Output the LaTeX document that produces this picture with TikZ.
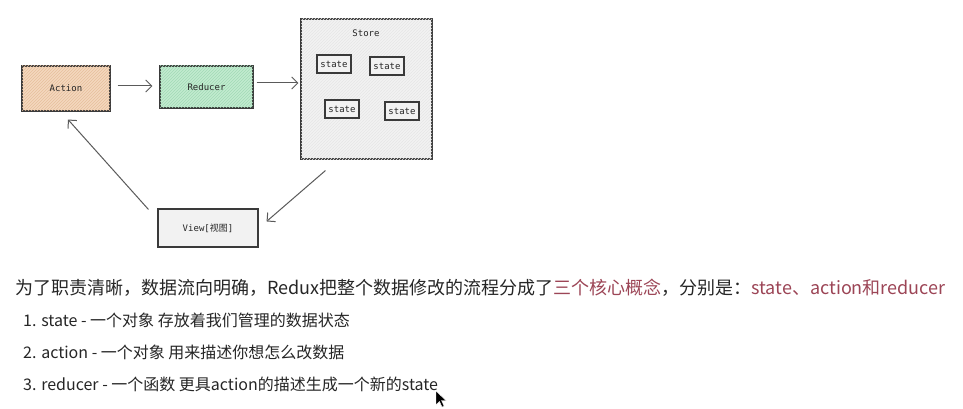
\documentclass[tikz,border=0pt]{standalone}
\usepackage{fontspec}
\setmainfont{Noto Sans CJK SC}
\newfontfamily\cjk{Noto Sans CJK SC}
\setmonofont{DejaVu Sans Mono}
\usetikzlibrary{arrows.meta,patterns}
\definecolor{actfill}{HTML}{F4D8BE}
\definecolor{actline}{HTML}{E6BF9C}
\definecolor{redfill}{HTML}{C2EBD0}
\definecolor{redline}{HTML}{A2DAB6}
\definecolor{stfill}{HTML}{F2F2F2}
\definecolor{stline}{HTML}{E6E6E6}
\definecolor{boxline}{HTML}{3A3A3A}
\definecolor{arrowc}{HTML}{5A5A5A}
\definecolor{txt}{HTML}{262626}
\definecolor{hl}{HTML}{9C4556}
\tikzset{
  sketchbox/.style={draw=boxline, line width=1.1pt, inner sep=0pt, font=\ttfamily\fontsize{9}{10}\selectfont, text=txt},
  statebox/.style={sketchbox, fill=stfill, minimum width=34pt, minimum height=18pt, line width=1.2pt},
  flow/.style={draw=arrowc, line width=1pt, -{Straight Barb[length=6pt,width=12pt,line width=1pt]}},
  para/.style={anchor=west, inner sep=0pt, text=txt},
  listline/.style={para, font=\fontsize{16}{18}\selectfont},
}
\begin{document}
\begin{tikzpicture}[x=1pt,y=-1pt]
\useasboundingbox (0,0) rectangle (963,409);
\fill[white] (0,0) rectangle (963,409);
% boxes
\node[sketchbox, fill=actfill, minimum width=88pt, minimum height=45pt,
  postaction={pattern=north east lines, pattern color=actline}] (action) at (66,88.5) {Action};
\node[sketchbox, fill=redfill, minimum width=93pt, minimum height=42pt,
  postaction={pattern=north east lines, pattern color=redline}] (reducer) at (206.5,87) {Reducer};
\node[sketchbox, fill=stfill, minimum width=131pt, minimum height=140pt,
  postaction={pattern=north east lines, pattern color=stline}] (store) at (366.5,89) {};
\node[font=\ttfamily\fontsize{9}{10}\selectfont, text=txt, inner sep=0pt] (storelbl) at (366,33) {Store};
\node[statebox] (s1) at (334,64) {state};
\node[statebox] (s2) at (387,66) {state};
\node[statebox] (s3) at (342,109) {state};
\node[statebox] (s4) at (402,111) {state};
\node[sketchbox, fill=stfill, minimum width=100pt, minimum height=38pt] (view) at (208,228) {View[{\cjk 视图}]};
% connectors
\draw[flow, shorten <=7pt, shorten >=7pt] (action.east |- 0,86) -- (reducer.west |- 0,86);
\draw[flow, shorten <=3pt, shorten >=2pt] (reducer.east |- 0,83) -- (store.west |- 0,83);
\draw[flow] ([shift={(25,11)}]store.south west) -- ([shift={(8,13)}]view.north east);
\draw[flow] ([shift={(-9,1)}]view.north west) -- ([shift={(2,8)}]action.south);
% text
\node[para, font=\fontsize{18}{20}\selectfont] (t1) at (15,288)
  {为了职责清晰，数据流向明确，Redux把整个数据修改的流程分成了\textcolor{hl}{三个核心概念}，分别是：\textcolor{hl}{state、action和reducer}};
\node[listline] (l1) at (23,320) {1. state - 一个对象 存放着我们管理的数据状态};
\node[listline] (l2) at (23,352) {2. action - 一个对象 用来描述你想怎么改数据};
\node[listline] (l3) at (23,384) {3. reducer - 一个函数 更具action的描述生成一个新的state};
% mouse pointer
\fill[black, draw=white, line width=0.4pt] (436,391) -- (436,405) -- (439.5,401.5) -- (442,407) -- (444,406) -- (441.5,400.5) -- (446,400.5) -- cycle;
\end{tikzpicture}
\end{document}
